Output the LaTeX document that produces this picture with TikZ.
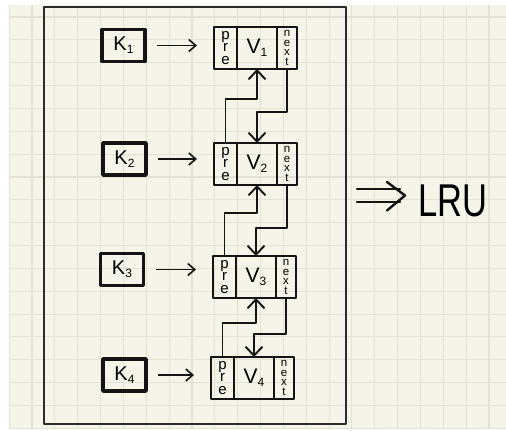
\documentclass[tikz,border=0pt]{standalone}
\usepackage{fontspec}
\setmainfont{Liberation Sans}
\usetikzlibrary{arrows.meta, calc, positioning}
\definecolor{pCream}{HTML}{F5F4E8}
\definecolor{pGrid}{HTML}{E3E2D4}
\definecolor{pInk}{HTML}{141414}
\definecolor{pFrame}{HTML}{2B2B2B}
\newcommand{\lowidx}[1]{\raisebox{-3pt}{\fontsize{12}{12}\selectfont#1}}

\begin{document}
\begin{tikzpicture}[x=1pt, y=-1pt, line join=round, node distance=0pt,
  keybox/.style={draw=pInk, line width=3.4pt, minimum width=43pt, minimum height=32pt,
                 inner sep=0pt, outer sep=0pt, font=\fontsize{20}{20}\selectfont},
  cell/.style={draw=pInk, line width=1.9pt, minimum height=42pt, inner sep=0pt, outer sep=0pt},
  precell/.style={cell, minimum width=23pt, align=center, font=\fontsize{15}{12.6}\selectfont},
  valcell/.style={cell, minimum width=40pt, font=\fontsize{21}{21}\selectfont},
  nextcell/.style={cell, minimum width=20pt, align=center, font=\fontsize{11.5}{9.6}\selectfont},
  keyarrow/.style={draw=pInk, line width=1.6pt, -{Straight Barb[length=7pt, width=12pt]},
                   shorten <=12pt, shorten >=17pt},
  link/.style={draw=pInk, line width=1.9pt, -{Straight Barb[length=9pt, width=17pt]}}]
  % paper
  \fill[white] (0,0) rectangle (506,431);
  \fill[pCream] (9,5) rectangle (506,428);
  \begin{scope}
    \clip (9,5) rectangle (506,428);
    \foreach \g in {0,...,21} {
      \draw[pGrid, line width=1.1pt] ({9.15+22.85*\g},5) -- ++(0,423);
      \draw[pGrid, line width=1.1pt] (9,{-5.85+22.85*\g}) -- ++(497,0);
    }
  \end{scope}
  \useasboundingbox (0,0) rectangle (506,431);
  % hash map frame
  \draw[pFrame, line width=1.8pt] (44,7) rectangle (346,424);
  % keys
  \node[keybox] (k1) at (123.5,45.5) {K\lowidx{1}};
  \node[keybox] (k2) at (124.5,159) {K\lowidx{2}};
  \node[keybox] (k3) at (122,269.5) {K\lowidx{3}};
  \node[keybox] (k4) at (124.5,375) {K\lowidx{4}};
  % list entries
  \node[precell] (p1) at (225.5,48) {p\\r\\e};
  \node[valcell, right=of p1] (v1) {V\lowidx{1}};
  \node[nextcell, right=of v1] (n1) {n\\e\\x\\t};
  \node[precell] (p2) at (225.5,164) {p\\r\\e};
  \node[valcell, right=of p2] (v2) {V\lowidx{2}};
  \node[nextcell, right=of v2] (n2) {n\\e\\x\\t};
  \node[precell] (p3) at (224.5,277) {p\\r\\e};
  \node[valcell, right=of p3] (v3) {V\lowidx{3}};
  \node[nextcell, right=of v3] (n3) {n\\e\\x\\t};
  \node[precell] (p4) at (222.5,378) {p\\r\\e};
  \node[valcell, right=of p4] (v4) {V\lowidx{4}};
  \node[nextcell, right=of v4] (n4) {n\\e\\x\\t};
  % key arrows
  \draw[keyarrow] (k1.east) -- (k1.east -| p1.west);
  \draw[keyarrow] (k2.east) -- (k2.east -| p2.west);
  \draw[keyarrow] (k3.east) -- (k3.east -| p3.west);
  \draw[keyarrow] (k4.east) -- (k4.east -| p4.west);
  % pre and next links
  \draw[link] (p2.north) |- ([yshift=-30pt]v1.south) -- (v1.south);
  \draw[link] (n1.south) |- ([yshift=31pt]v2.north) -- (v2.north);
  \draw[link] (p3.north) |- ([yshift=-28pt]v2.south) -- (v2.south);
  \draw[link] (n2.south) |- ([yshift=28pt]v3.north) -- (v3.north);
  \draw[link] (p4.north) |- ([yshift=-25pt]v3.south) -- (v3.south);
  \draw[link] (n3.south) |- ([yshift=23pt]v4.north) -- (v4.north);
  % result
  \node[font=\fontsize{46}{46}\selectfont, inner sep=0pt, anchor=base west] (lru) at (418,216)
    {\scalebox{0.75}[1]{LRU}};
  \coordinate (imp) at (357,195.5);
  \draw[pInk, line width=2.4pt, line cap=round]
    ([yshift=6.5pt]imp) -- ++(43,0) ([yshift=-6.5pt]imp) -- ++(43,0);
  \draw[pInk, line width=2.4pt, line cap=round] (imp) ++(30,-13.5) -- ++(18,13.5) -- ++(-18,15);
\end{tikzpicture}
\end{document}
